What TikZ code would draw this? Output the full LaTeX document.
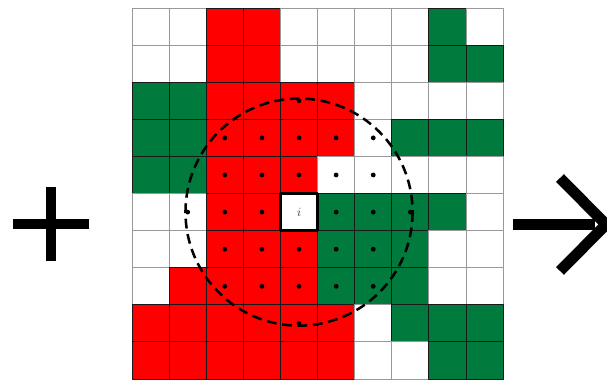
\documentclass[tikz,border=0pt]{standalone}
\definecolor{cellred}{RGB}{255,0,0}
\definecolor{cellgreen}{RGB}{0,122,61}
\tikzset{
	cell W/.style={fill=white,draw=gray!80},
	cell R/.style={fill=cellred,draw=black!90},
	cell G/.style={fill=cellgreen,draw=black!90},
	bar/.style={line width=7.8pt,line cap=butt},
}
\begin{document}
\begin{tikzpicture}[x=0.025cm,y=-0.025cm,line join=round]
	\useasboundingbox (0,0) rectangle (607,381);
	\clip (0,0) rectangle (607,381);
	\path
	(51,224) coordinate (P)
	(513,224.5) coordinate (S)
	(606,224.5) coordinate (T)
	;
	% plus sign and arrow
	\draw[bar] (P)+(-38,0) -- +(38,0) (P)+(0,-37) -- +(0,37);
	\draw[bar] (S) -- ([xshift=-8]T);
	\draw[bar,line join=miter] (T)+(-46,-46.5) -- (T) -- +(-46,46.5);
	\begin{scope}[shift={(3.3cm,-0.2cm)},x=0.9275cm,y=-0.9275cm]
		\foreach \row [count=\j from 0] in {
			{W,W,R,R,W,W,W,W,G,W},
			{W,W,R,R,W,W,W,W,G,G},
			{G,G,R,R,R,R,W,W,W,W},
			{G,G,R,R,R,R,W,G,G,G},
			{G,G,R,R,R,W,W,W,W,W},
			{W,W,R,R,W,G,G,G,G,W},
			{W,W,R,R,R,G,G,G,W,W},
			{W,R,R,R,R,G,G,G,W,W},
			{R,R,R,R,R,R,W,G,G,G},
			{R,R,R,R,R,R,W,W,G,G}}
		\foreach \c [count=\i from 0] in \row
		\path[cell \c,line width=0.7pt] (\i,\j) rectangle ++(1,1);
		\path (4.5,5.5) coordinate (O);
		\draw[line width=2.2pt] (4,5) rectangle (5,6);
		\node[font=\small,text=black!70] (ilabel) at (O) {$i$};
		% neighbours within radius 3
		\foreach \dx in {-3,...,3}
		\foreach \dy in {-3,...,3}{
			\pgfmathtruncatemacro\dd{\dx*\dx+\dy*\dy}
			\ifnum\dd<10 \ifnum\dd>0
			\fill (O)+(\dx,\dy) circle (0.065);
			\fi\fi
		}
		\draw[line width=1.8pt,dash pattern=on 7pt off 4pt] (O) circle (3.06);
	\end{scope}
\end{tikzpicture}
\end{document}
